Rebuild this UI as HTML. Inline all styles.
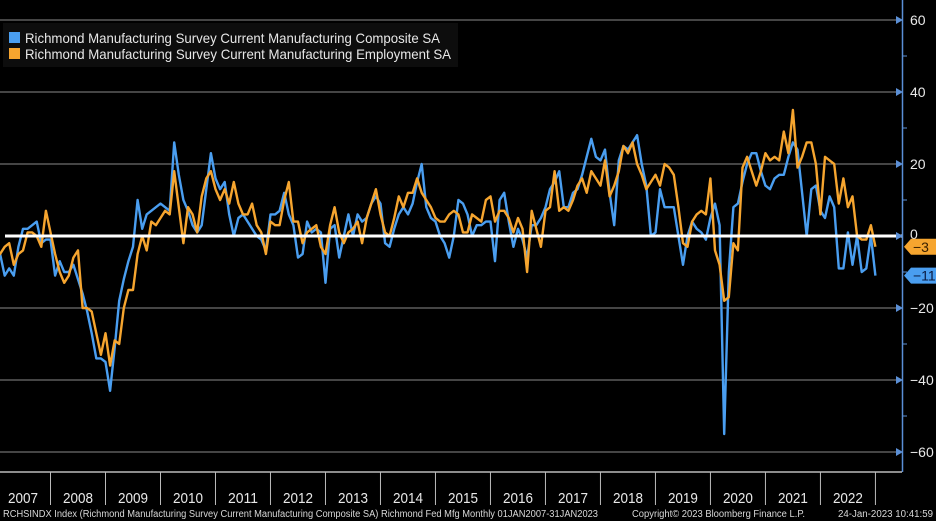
<!DOCTYPE html>
<html><head><meta charset="utf-8"><style>
html,body{margin:0;padding:0;background:#000;}
body{width:936px;height:521px;overflow:hidden;font-family:"Liberation Sans",sans-serif;}
svg{display:block}
</style></head><body>
<svg id="chart" width="936" height="521" xmlns="http://www.w3.org/2000/svg">
<rect x="0" y="0" width="936" height="521" fill="#000"/>
<g id="grid"></g>
<g id="series"></g>
<g id="axis"></g>
<g id="xaxis"></g>
<g>
<rect x="3" y="23" width="455" height="44" fill="#0d0d0d"/>
<rect x="9" y="32" width="11" height="11" fill="#4a9ef0"/>
<text x="25" y="43" fill="#e8e8e8" font-size="14" textLength="415" lengthAdjust="spacingAndGlyphs">Richmond Manufacturing Survey Current Manufacturing Composite SA</text>
<rect x="9" y="48" width="11" height="11" fill="#f6a52f"/>
<text x="25" y="59" fill="#e8e8e8" font-size="14" textLength="426" lengthAdjust="spacingAndGlyphs">Richmond Manufacturing Survey Current Manufacturing Employment SA</text>
</g>
<text x="3" y="517" fill="#d8d8d8" font-size="10" textLength="595" lengthAdjust="spacingAndGlyphs">RCHSINDX Index (Richmond Manufacturing Survey Current Manufacturing Composite SA) Richmond Fed Mfg  Monthly 01JAN2007-31JAN2023</text>
<text x="632" y="517" fill="#d8d8d8" font-size="10" textLength="173" lengthAdjust="spacingAndGlyphs">Copyright© 2023 Bloomberg Finance L.P.</text>
<text x="838" y="517" fill="#d8d8d8" font-size="10" textLength="95" lengthAdjust="spacingAndGlyphs">24-Jan-2023 10:41:59</text>
</svg>
<script>
const composite = [
-8,-5,-11,-9,-11,-3,2,2,3,4,-2,-1,
-1,-11,-7,-10,-10,-8,-12,-16,-21,-27,-34,-34,
-35,-43,-31,-18,-12,-7,-3,10,2,6,7,8,
9,8,7,26,17,10,7,3,1,3,13,23,
16,13,15,6,0,5,6,4,2,0,-1,-4,
6,6,7,12,6,3,-6,-5,4,1,2,1,
-13,2,3,-6,0,6,0,6,4,5,9,11,
9,-2,-3,2,6,8,6,9,15,20,8,5,
4,0,-2,-6,0,10,9,6,0,3,3,4,
4,-7,10,12,4,-3,2,-1,-6,3,3,5,
8,13,15,18,8,8,12,13,17,22,27,22,
21,24,12,3,21,25,24,26,28,20,14,0,
1,13,8,8,8,0,-8,0,4,2,1,-1,
5,9,3,-55,-10,8,9,15,20,23,23,18,
14,13,16,17,17,22,26,24,12,0,13,14,
7,5,11,8,-9,-9,1,-8,0,-10,-9,0,
-11];
const employment = [
-6,-5,-3,-2,-8,-5,-4,1,1,0,-3,7,
1,-5,-10,-13,-11,-6,-4,-20,-20,-21,-27,-33,
-27,-36,-29,-30,-20,-15,-15,-5,0,-4,4,3,
5,7,6,18,8,-2,8,6,1,11,16,18,
13,10,13,9,15,9,6,6,9,3,1,-5,
4,3,3,10,15,4,4,-2,1,2,3,-3,
-5,3,8,1,-2,1,2,4,-2,5,9,13,
6,1,0,5,11,8,12,12,16,12,10,8,
5,4,4,6,7,6,1,1,6,5,4,10,
11,4,7,7,5,1,5,2,-10,7,2,-3,
7,8,18,7,8,7,10,14,16,12,18,16,
14,21,11,14,18,25,23,26,20,17,13,15,
17,14,20,19,17,8,-2,-3,4,6,7,6,
16,-4,-8,-18,-17,-2,-4,19,22,18,14,18,
23,21,22,21,29,23,35,19,22,26,26,20,
6,22,21,20,9,16,8,11,0,-1,-1,3,
-3];
const yTicks = [60,40,20,0,-20,-40,-60];
const years = ["2007","2008","2009","2010","2011","2012","2013","2014","2015","2016","2017","2018","2019","2020","2021","2022"];

const NS = "http://www.w3.org/2000/svg";
const xScale = i => -4.5 + i * 4.583;
const yScale = v => 236 - v * 3.6;
function mk(tag, attrs, parent){const e=document.createElementNS(NS,tag);for(const k in attrs)e.setAttribute(k,attrs[k]);parent.appendChild(e);return e;}
const grid=document.getElementById('grid'), series=document.getElementById('series'), axis=document.getElementById('axis'), xaxis=document.getElementById('xaxis');

yTicks.forEach(v=>{
  const y=yScale(v);
  if(v!==0){
    const l=mk('line',{x1:0,x2:902,y1:y,y2:y,stroke:'#8a8a8a','stroke-width':1},grid);
    
    
  }
  const t=mk('path',{d:`M896 ${y-4} L903 ${y} L896 ${y+4} Z`,fill:'#5b8fd6'},axis);
  
  
  if(v!==0){
    const tx=mk('text',{x:910,y:y+5,fill:'#e8e8e8','font-size':14},axis);
    tx.textContent=String(v).replace('-','\u2212');
    
    
  }
});
for(let v=50; v>-60; v-=20){
  const m=mk('line',{x1:903,x2:907,y1:yScale(v),y2:yScale(v),stroke:'#5b8fd6','stroke-width':1},axis);
  
  
}
const ax=mk('line',{x1:902.5,x2:902.5,y1:0,y2:472,stroke:'#5b8fd6','stroke-width':1.5},axis);



function drawLine(arr,color,name){
  const d=arr.map((v,i)=>(i?'L':'M')+xScale(i).toFixed(1)+' '+yScale(v).toFixed(1)).join(' ');
  const p=mk('path',{d:d,fill:'none',stroke:color,'stroke-width':2.4,'stroke-linejoin':'round'},series);
  
  
}
drawLine(composite,'#4a9ef0','line-composite');
drawLine(employment,'#f6a52f','line-employment');
const zl=mk('line',{x1:5,x2:903,y1:yScale(0),y2:yScale(0),stroke:'#fff','stroke-width':3},series);



function lastTag(val,color,tcolor,name){
  const y=yScale(val);
  const g=mk('g',{},axis);
  
  
  mk('path',{d:`M904 ${y} L911 ${y-8} L936 ${y-8} L936 ${y+8} L911 ${y+8} Z`,fill:color},g);
  const t=mk('text',{x:913,y:y+5,fill:tcolor,'font-size':14},g);
  t.textContent=String(val).replace('-','\u2212');
}
const lastE=employment[employment.length-1], lastC=composite[composite.length-1];
const t0=mk('text',{x:910,y:yScale(0)+3,fill:'#e8e8e8','font-size':14},axis);
t0.textContent='0';


lastTag(lastE,'#f6a52f','#3a2000','last-value-employment');
lastTag(lastC,'#4a9ef0','#0a1a40','last-value-composite');

const hl=mk('line',{x1:0,x2:902,y1:472,y2:472,stroke:'#e0e0e0','stroke-width':1.3},xaxis);


years.forEach((yr,k)=>{
  const xs=xScale(12*(k+1));
  const s=mk('line',{x1:xs,x2:xs,y1:472,y2:505,stroke:'#bbb','stroke-width':1},xaxis);
  
  
  const t=mk('text',{x:xScale(12*k+6),y:503,fill:'#e8e8e8','font-size':15,'text-anchor':'middle',textLength:30,lengthAdjust:'spacingAndGlyphs'},xaxis);
  t.textContent=yr;
  
  
});
</script>
</body></html>
